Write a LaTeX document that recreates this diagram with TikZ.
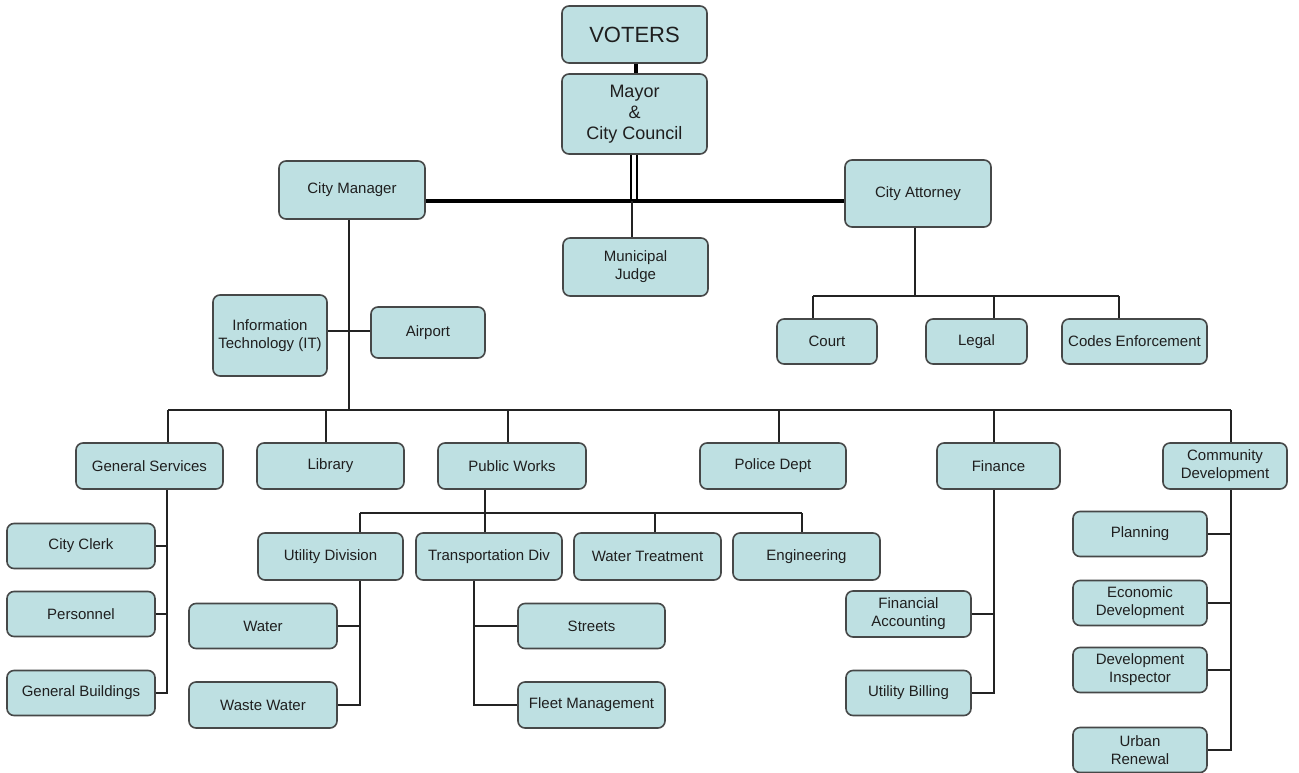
\documentclass[tikz,border=0pt]{standalone}
\usepackage{fontspec}
\setmainfont{Liberation Sans}
\definecolor{boxfill}{RGB}{190,224,226}
\definecolor{boxline}{RGB}{70,72,72}
\definecolor{wirecol}{RGB}{35,35,35}
\begin{document}
\begin{tikzpicture}[x=1pt,y=-1pt,
  box/.style={draw=boxline, fill=boxfill, line width=1.6pt, rounded corners=7pt,
    inner sep=0pt, align=center, text=black!88, font=\fontsize{15}{18}\selectfont},
  wire/.style={draw=wirecol, line width=1.5pt},
  heavy/.style={draw=black, line width=3.6pt},
  dblwire/.style={draw=black, line width=2.4pt}]
\useasboundingbox[fill=white] (0,0) rectangle (1299,772);

% ---------- top ----------
\node[box, minimum width=145pt, minimum height=57pt, font=\fontsize{22}{24}\selectfont] (voters) at (634.5,34.5) {VOTERS};
\node[box, minimum width=145pt, minimum height=80pt, font=\fontsize{18}{21}\selectfont] (mayor) at (634.5,114) {Mayor\\\&\\City Council};
\node[box, minimum width=146pt, minimum height=58pt] (mgr) at (352,190) {City Manager};
\node[box, minimum width=146pt, minimum height=67pt] (atty) at (918,193.5) {City Attorney};
\node[box, minimum width=145pt, minimum height=58pt] (judge) at (635.5,267) {Municipal\\Judge};

\node[box, minimum width=114pt, minimum height=81pt] (it) at (270,335.5) {Information\\Technology (IT)};
\node[box, minimum width=114pt, minimum height=51pt] (airport) at (428,332.5) {Airport};

\node[box, minimum width=100pt, minimum height=45pt] (court) at (827,341.5) {Court};
\node[box, minimum width=101pt, minimum height=45pt] (legal) at (976.5,341.5) {Legal};
\node[box, minimum width=145pt, minimum height=45pt] (codes) at (1134.5,341.5) {Codes Enforcement};

% ---------- departments ----------
\node[box, minimum width=147pt, minimum height=46pt] (gs) at (149.5,466) {General Services};
\node[box, minimum width=147pt, minimum height=46pt] (lib) at (330.5,466) {Library};
\node[box, minimum width=148pt, minimum height=46pt] (pw) at (512,466) {Public Works};
\node[box, minimum width=146pt, minimum height=46pt] (police) at (773,466) {Police Dept};
\node[box, minimum width=123pt, minimum height=46pt] (fin) at (998.5,466) {Finance};
\node[box, minimum width=124pt, minimum height=46pt] (cd) at (1225,466) {Community\\Development};

% ---------- general services ----------
\node[box, minimum width=148pt, minimum height=45pt] (clerk) at (81,546) {City Clerk};
\node[box, minimum width=148pt, minimum height=45pt] (pers) at (81,614) {Personnel};
\node[box, minimum width=148pt, minimum height=45pt] (gb) at (81,693) {General Buildings};

% ---------- public works ----------
\node[box, minimum width=145pt, minimum height=47pt] (ud) at (330.5,556.5) {Utility Division};
\node[box, minimum width=146pt, minimum height=47pt] (td) at (489,556.5) {Transportation Div};
\node[box, minimum width=147pt, minimum height=47pt] (wt) at (647.5,556.5) {Water Treatment};
\node[box, minimum width=147pt, minimum height=47pt] (eng) at (806.5,556.5) {Engineering};

\node[box, minimum width=148pt, minimum height=45pt] (water) at (263,626) {Water};
\node[box, minimum width=148pt, minimum height=46pt] (ww) at (263,705) {Waste Water};
\node[box, minimum width=147pt, minimum height=45pt] (streets) at (591.5,626) {Streets};
\node[box, minimum width=147pt, minimum height=46pt] (fleet) at (591.5,705) {Fleet Management};

% ---------- finance ----------
\node[box, minimum width=125pt, minimum height=46pt] (fa) at (908.5,614) {Financial\\Accounting};
\node[box, minimum width=125pt, minimum height=45pt] (ub) at (908.5,693) {Utility Billing};

% ---------- community development ----------
\node[box, minimum width=134pt, minimum height=45pt] (plan) at (1140,534) {Planning};
\node[box, minimum width=134pt, minimum height=45pt] (econ) at (1140,603) {Economic\\Development};
\node[box, minimum width=134pt, minimum height=45pt] (insp) at (1140,670) {Development\\Inspector};
\node[box, minimum width=134pt, minimum height=45pt] (urban) at (1140,750) {Urban\\Renewal};

% ---------- connectors ----------
\coordinate (vm) at (636,0);
\coordinate (dl) at (631,0);
\coordinate (dr) at (637,0);
\coordinate (jy) at (632,201);
\draw[heavy] (voters.south -| vm) -- (mayor.north -| vm);
\draw[dblwire] (mayor.south -| dl) -- (dl |- jy);
\draw[dblwire] (mayor.south -| dr) -- (dr |- jy);
\draw[heavy] (mgr.east |- jy) -- (atty.west |- jy);
\draw[wire] (jy) -- (judge.north -| jy);

% city manager trunk
\coordinate (mv) at (349,410);
\draw[wire] (mgr.south -| mv) -- (mv);
\coordinate (ity) at (0,331);
\draw[wire] (it.east |- ity) -- (airport.west |- ity);

% department bus
\coordinate (busL) at (168,410);
\coordinate (busR) at (1231,410);
\coordinate (dlib) at (326,410);
\coordinate (dpw) at (508,410);
\coordinate (dpol) at (779,410);
\coordinate (dfin) at (994,410);
\draw[wire] (busL) -- (busR);
\draw[wire] (busL) -- (gs.north -| busL);
\draw[wire] (dlib) -- (lib.north -| dlib);
\draw[wire] (dpw) -- (pw.north -| dpw);
\draw[wire] (dpol) -- (police.north -| dpol);
\draw[wire] (dfin) -- (fin.north -| dfin);
\draw[wire] (busR) -- (cd.north -| busR);

% city attorney
\coordinate (av) at (915,296);
\coordinate (aL) at (813,296);
\coordinate (aM) at (994,296);
\coordinate (aR) at (1119,296);
\draw[wire] (atty.south -| av) -- (av);
\draw[wire] (aL) -- (aR);
\draw[wire] (aL) -- (court.north -| aL);
\draw[wire] (aM) -- (legal.north -| aM);
\draw[wire] (aR) -- (codes.north -| aR);

% general services
\coordinate (gv) at (167,0);
\draw[wire] (gs.south -| gv) |- (gb.east);
\draw[wire] (clerk.east) -- (clerk.east -| gv);
\draw[wire] (pers.east) -- (pers.east -| gv);

% public works
\coordinate (pv) at (485,513);
\coordinate (pL) at (360,513);
\coordinate (pWT) at (655,513);
\coordinate (pR) at (802,513);
\draw[wire] (pw.south -| pv) -- (pv);
\draw[wire] (pL) -- (pR);
\draw[wire] (pL) -- (ud.north -| pL);
\draw[wire] (pv) -- (td.north -| pv);
\draw[wire] (pWT) -- (wt.north -| pWT);
\draw[wire] (pR) -- (eng.north -| pR);

\coordinate (uv) at (360,0);
\draw[wire] (ud.south -| uv) |- (ww.east);
\draw[wire] (water.east) -- (water.east -| uv);
\coordinate (tv) at (474,0);
\draw[wire] (td.south -| tv) |- (fleet.west);
\draw[wire] (streets.west) -- (streets.west -| tv);

% finance
\coordinate (fv) at (994,0);
\draw[wire] (fin.south -| fv) |- (ub.east);
\draw[wire] (fa.east) -- (fa.east -| fv);

% community development
\coordinate (cv) at (1231,0);
\draw[wire] (cd.south -| cv) |- (urban.east);
\draw[wire] (plan.east) -- (plan.east -| cv);
\draw[wire] (econ.east) -- (econ.east -| cv);
\draw[wire] (insp.east) -- (insp.east -| cv);
\end{tikzpicture}
\end{document}
